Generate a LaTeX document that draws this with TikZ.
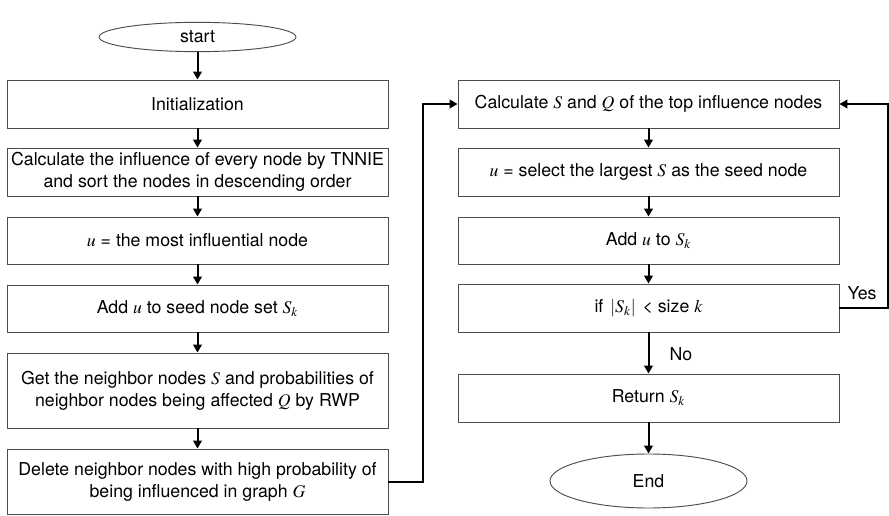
\documentclass[tikz,border=0pt]{standalone}
\usepackage{mathptmx}
\usepackage[no-math]{fontspec}
\setmainfont{TeX Gyre Heros}
\usetikzlibrary{shapes.geometric,arrows.meta}
\begin{document}
\begin{tikzpicture}[x=0.75pt,y=-0.75pt,
  every node/.style={font=\fontsize{13.3pt}{16.5pt}\selectfont},
  procbox/.style={draw=black!70,line width=0.7pt,minimum width=285.75pt,align=center,inner sep=2pt},
  termin/.style={draw=black!70,line width=0.7pt,ellipse,minimum width=147.75pt,inner sep=1pt},
  arr/.style={line width=1.5pt,-{Triangle[length=6pt,width=6.5pt]}},
  lbl/.style={inner sep=1pt}]
\useasboundingbox (0,0) rectangle (889,516);
% left column
\node[termin,minimum height=22pt] (start) at (197.5,37) {start};
\node[procbox,minimum height=36pt] (init) at (197.5,104) {Initialization};
\node[procbox,minimum height=36pt] (calc) at (197.5,172) {Calculate the influence of every node by TNNIE\\and sort the nodes in descending order};
\node[procbox,minimum height=35.25pt] (most) at (197.5,240.5) {$u$ = the most influential node};
\node[procbox,minimum height=35.25pt] (add) at (197.5,308.5) {Add $u$ to seed node set $S_k$};
\node[procbox,minimum height=56.25pt] (get) at (197.5,390.5) {Get the neighbor nodes $S$ and probabilities of\\neighbor nodes being affected $Q$ by RWP};
\node[procbox,minimum height=48.75pt] (del) at (197.5,481.5) {Delete neighbor nodes with high probability of\\being influenced in graph $G$};
% right column
\node[procbox,minimum height=36pt] (csq) at (648.5,104) {Calculate $S$ and $Q$ of the top influence nodes};
\node[procbox,minimum height=36pt] (sel) at (648.5,172) {$u$ = select the largest $S$ as the seed node};
\node[procbox,minimum height=35.25pt] (addr) at (648.5,240.5) {Add $u$ to $S_k$};
\node[procbox,minimum height=36pt] (cond) at (648.5,308) {if $\,|S_k|\,$ < size $k$};
\node[procbox,minimum height=36pt] (ret) at (648.5,398) {Return $S_k$};
\node[termin,minimum height=40.5pt] (end) at (648.5,481) {End};
% vertical flow
\draw[arr] (start) -- (init);
\draw[arr] (init) -- (calc);
\draw[arr] (calc) -- (most);
\draw[arr] (most) -- (add);
\draw[arr] (add) -- (get);
\draw[arr] (get) -- (del);
\draw[arr] (csq) -- (sel);
\draw[arr] (sel) -- (addr);
\draw[arr] (addr) -- (cond);
\draw[arr] (cond) -- (ret);
\draw[arr] (ret) -- (end);
% links between columns and the loop back
\coordinate (lx) at (423,0);
\coordinate (rx) at (888,0);
\draw[arr] (del.east) -| (lx |- csq.west) -- (csq.west);
\draw[arr] (cond.east) -| (rx |- csq.east) -- (csq.east);
\node[lbl] (yes) at (862,293) {Yes};
\node[lbl] (no) at (681,354) {No};
\end{tikzpicture}
\end{document}
